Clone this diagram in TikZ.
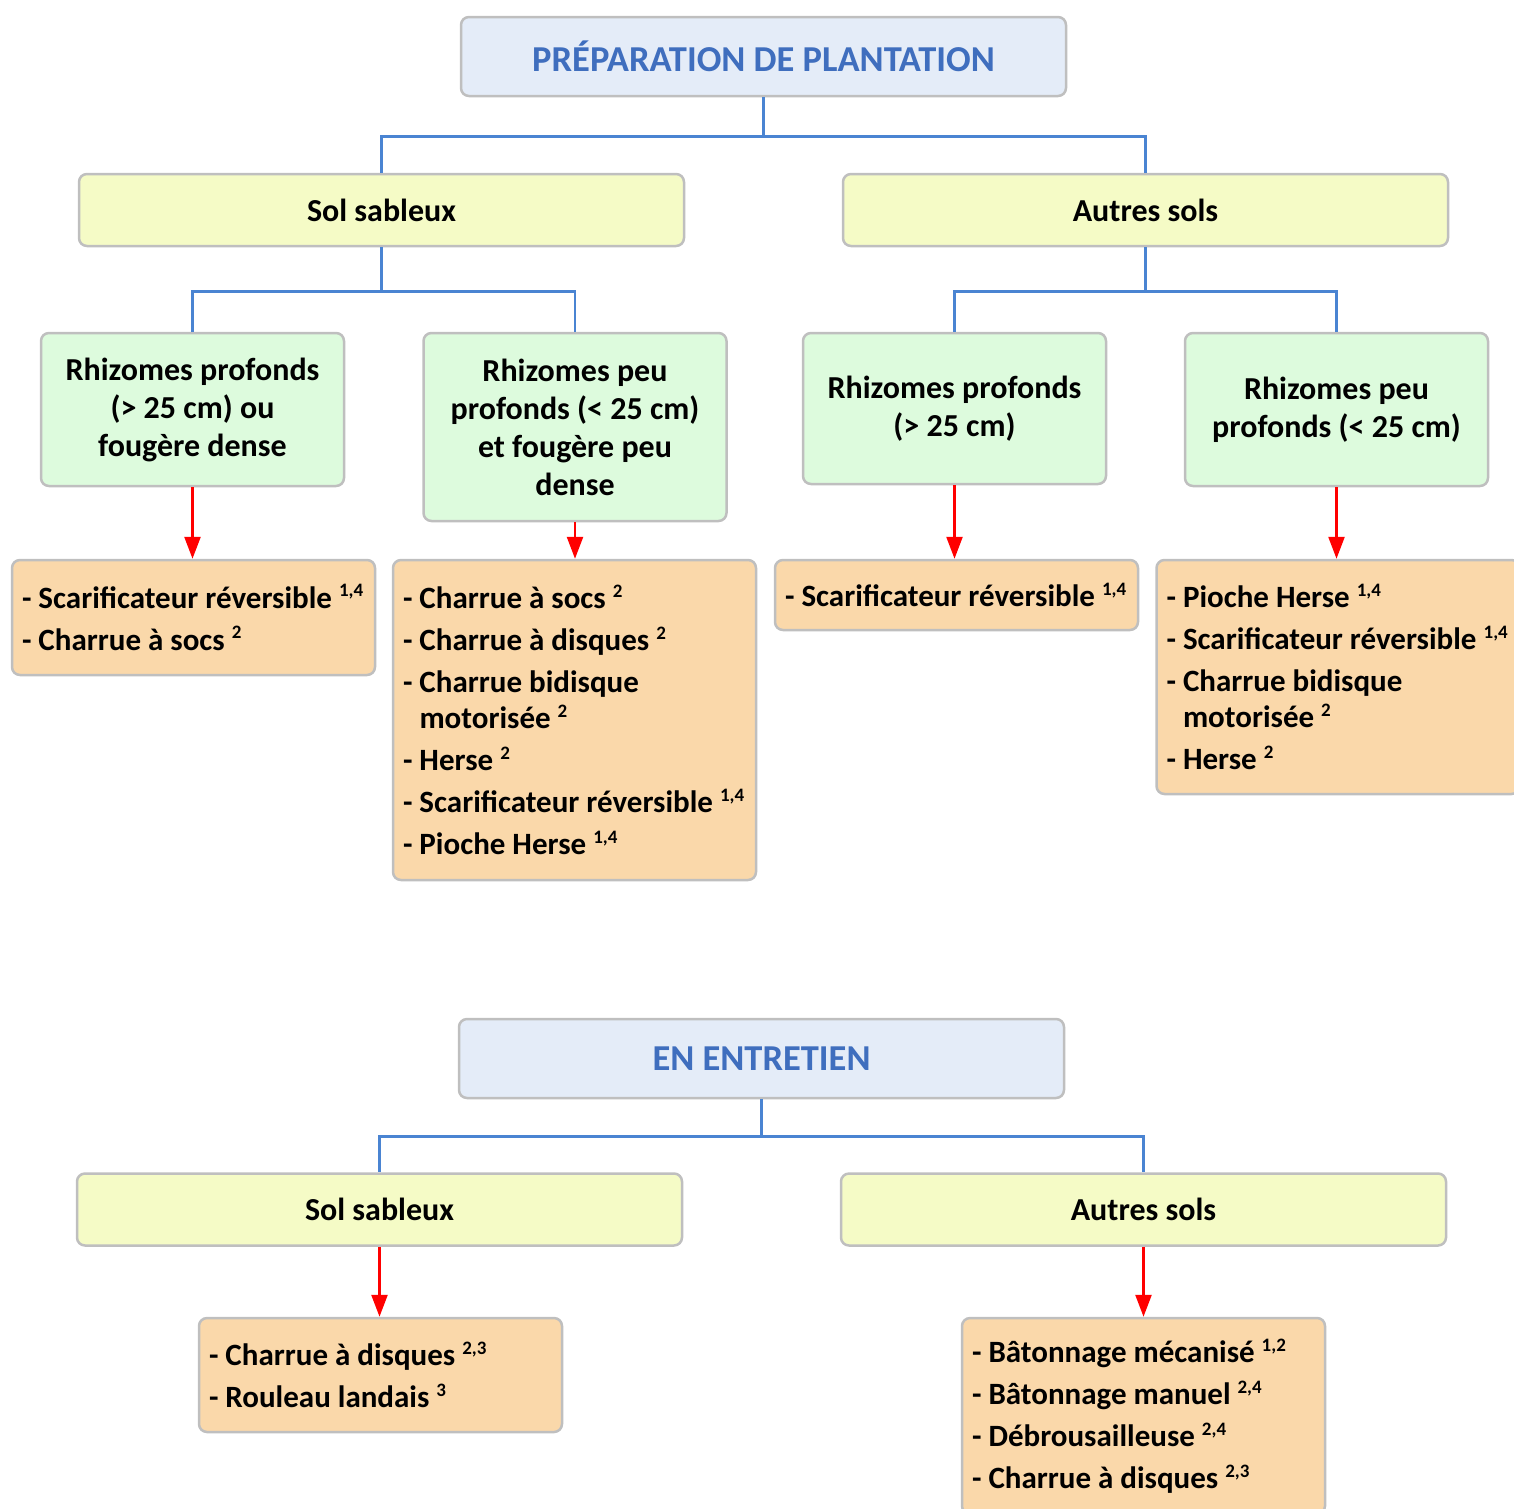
\documentclass[tikz,border=0pt]{standalone}
\usepackage{fontspec}
\setmainfont{Carlito}
\usetikzlibrary{arrows.meta}
\definecolor{titlefill}{HTML}{E4ECF8}
\definecolor{titleblue}{HTML}{3F6EBE}
\definecolor{soilfill}{HTML}{F5FBC6}
\definecolor{rhizfill}{HTML}{DDFBDD}
\definecolor{toolfill}{HTML}{FAD8AA}
\definecolor{boxgray}{HTML}{BFBFBF}
\definecolor{linkblue}{HTML}{4A84D2}
\definecolor{arrowred}{HTML}{FF0000}
\newcommand{\expo}[1]{\raisebox{0.36em}{\fontsize{19}{19}\selectfont #1}}
\newcommand{\itemgap}{\\[6pt]}

\tikzset{
  boxbase/.style={draw=boxgray, line width=2.5pt, rounded corners=8pt, font=\bfseries\fontsize{32}{38}\selectfont},
  titlebox/.style={boxbase, fill=titlefill, minimum width=605pt, minimum height=79pt, text=titleblue, font=\bfseries\fontsize{36.5}{42}\selectfont},
  soilbox/.style={boxbase, fill=soilfill, minimum width=605pt, minimum height=72pt},
  rhizbox/.style={boxbase, fill=rhizfill, minimum width=303pt, align=center},
  toolbox/.style={boxbase, fill=toolfill, align=flush left, inner xsep=10pt, text width=343pt, font=\bfseries\fontsize{31}{36}\selectfont},
  branch/.style={draw=linkblue, line width=2.5pt},
  pointer/.style={draw=arrowred, line width=2.5pt, -{Triangle[length=22pt,width=16pt]}}
}

\begin{document}
\begin{tikzpicture}[x=1pt,y=-1pt]
  \useasboundingbox (0,0) rectangle (1514,1508);

  % preparation de plantation
  \node[titlebox] (prep) at (763.5,56.5) {PRÉPARATION DE PLANTATION};
  \node[soilbox] (sable) at (381.5,210) {Sol sableux};
  \node[soilbox] (autres) at (1145.5,210) {Autres sols};

  \node[rhizbox, minimum height=153pt] (sprof) at (192.5,409.5) {Rhizomes profonds\\(> 25 cm) ou\\fougère dense};
  \node[rhizbox, minimum height=188pt] (speu) at (575,427) {Rhizomes peu\\profonds (< 25 cm)\\et fougère peu\\dense};
  \node[rhizbox, minimum height=151pt] (aprof) at (954.5,408.5) {Rhizomes profonds\\(> 25 cm)};
  \node[rhizbox, minimum height=153pt] (apeu) at (1336.5,409.5) {Rhizomes peu\\profonds (< 25 cm)};

  \node[toolbox, minimum height=115pt] (outsprof) at (193.5,617.5)
    {- Scarificateur réversible \expo{1,4}\itemgap
     - Charrue à socs \expo{2}};
  \node[toolbox, minimum height=320pt] (outspeu) at (574.5,720)
    {- Charrue à socs \expo{2}\itemgap
     - Charrue à disques \expo{2}\itemgap
     - Charrue bidisque\\\hphantom{- }motorisée \expo{2}\itemgap
     - Herse \expo{2}\itemgap
     - Scarificateur réversible \expo{1,4}\itemgap
     - Pioche Herse \expo{1,4}};
  \node[toolbox, minimum height=70pt] (outaprof) at (956.5,595)
    {- Scarificateur réversible \expo{1,4}};
  \node[toolbox, minimum height=234pt] (outapeu) at (1338,677)
    {- Pioche Herse \expo{1,4}\itemgap
     - Scarificateur réversible \expo{1,4}\itemgap
     - Charrue bidisque\\\hphantom{- }motorisée \expo{2}\itemgap
     - Herse \expo{2}};

  \draw[branch] (prep.south) -- ++(0,39) -| (sable.north);
  \draw[branch] (prep.south) -- ++(0,39) -| (autres.north);
  \draw[branch] (sable.south) -- ++(0,44) -| (sprof.north);
  \draw[branch] (sable.south) -- ++(0,44) -| (speu.north);
  \draw[branch] (autres.south) -- ++(0,44) -| (aprof.north);
  \draw[branch] (autres.south) -- ++(0,44) -| (apeu.north);

  \draw[pointer] (sprof.south) -- (sprof.south |- outsprof.north);
  \draw[pointer] (speu.south) -- (speu.south |- outspeu.north);
  \draw[pointer] (aprof.south) -- (aprof.south |- outaprof.north);
  \draw[pointer] (apeu.south) -- (apeu.south |- outapeu.north);

  % en entretien
  \node[titlebox] (entr) at (761.5,1058.5) {EN ENTRETIEN};
  \node[soilbox] (esable) at (379.5,1209.5) {Sol sableux};
  \node[soilbox] (eautres) at (1143.5,1209.5) {Autres sols};

  \node[toolbox, minimum height=114pt] (outesable) at (380.5,1375)
    {- Charrue à disques \expo{2,3}\itemgap
     - Rouleau landais \expo{3}};
  \node[toolbox, minimum height=196pt] (outeautres) at (1143.5,1416)
    {- Bâtonnage mécanisé \expo{1,2}\itemgap
     - Bâtonnage manuel \expo{2,4}\itemgap
     - Débrousailleuse \expo{2,4}\itemgap
     - Charrue à disques \expo{2,3}};

  \draw[branch] (entr.south) -- ++(0,37) -| (esable.north);
  \draw[branch] (entr.south) -- ++(0,37) -| (eautres.north);

  \draw[pointer] (esable.south) -- (esable.south |- outesable.north);
  \draw[pointer] (eautres.south) -- (eautres.south |- outeautres.north);
\end{tikzpicture}
\end{document}
